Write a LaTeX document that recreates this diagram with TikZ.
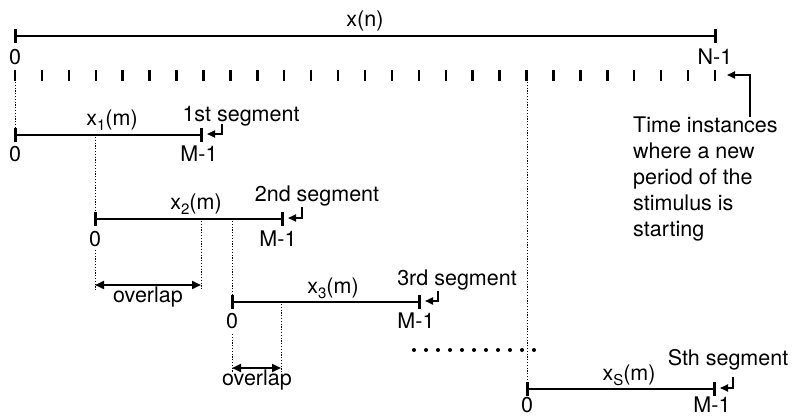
\documentclass[tikz,border=0pt]{standalone}
\usepackage{fontspec}
\setmainfont{TeX Gyre Heros}
\usetikzlibrary{arrows.meta}
\newcommand{\seglabel}[1]{x\raisebox{-5pt}{\fontsize{15}{15}\selectfont #1}(m)}
\begin{document}
\begin{tikzpicture}[x=1pt,y=-1pt,
  txt/.style={font=\fontsize{21.5}{26}\selectfont, inner sep=0pt, anchor=base},
  axis/.style={line width=2.2pt},
  endbar/.style={line width=3pt},
  tickmark/.style={line width=2.4pt},
  guide/.style={line width=0.9pt, dash pattern=on 1.2pt off 1.6pt},
  hook/.style={line width=1.8pt, -{Triangle[length=8pt,width=7pt]}},
  span/.style={line width=2.2pt, {Triangle[length=9pt,width=8pt]}-{Triangle[length=9pt,width=8pt]}},
]
\useasboundingbox (0,0) rectangle (793,417);

% full signal x(n)
\coordinate (n0) at (15,36);
\coordinate (n1) at (715,36);
\draw[axis] (n0) -- (n1);
\draw[endbar] (15,29) -- (15,43);
\draw[endbar] (715,29) -- (715,43);
\node[txt] (xn) at (365,27) {x(n)};
\node[txt] (n0lbl) at (15,65) {0};
\node[txt] (n1lbl) at (715,65) {N-1};

% period start instants
\foreach \k in {0,...,26}
  \draw[tickmark] ({15+\k*26.923},70) -- ++(0,11);

% note on the period starts
\node[font=\fontsize{21.5}{26}\selectfont, inner sep=0pt, anchor=north west, align=left]
  (note) at (633,117) {Time instances\\where a new\\period of the\\stimulus is\\starting};
\coordinate (notearr) at (750,117);
\coordinate (lasttick) at (727,75);
\draw[hook] (notearr) |- (lasttick);

% segment 1
\coordinate (s1a) at (15,135);
\coordinate (s1b) at (201,135);
\draw[axis] (s1a) -- (s1b);
\draw[endbar] (15,128) -- (15,142);
\draw[endbar] (201,128) -- (201,142);
\node[txt] (s1name) at (112,126) {\seglabel{1}};
\node[txt] (s1txt) at (241,122) {1st segment};
\node[txt] (s1zero) at (15,162) {0};
\node[txt] (s1end) at (199,162) {M-1};
\coordinate (s1h) at (222,124);
\coordinate (s1t) at (207,134);
\draw[hook] (s1h) |- (s1t);

% segment 2
\coordinate (s2a) at (95,219);
\coordinate (s2b) at (282,219);
\draw[axis] (s2a) -- (s2b);
\draw[endbar] (95,212) -- (95,226);
\draw[endbar] (282,212) -- (282,226);
\node[txt] (s2name) at (196,210) {\seglabel{2}};
\node[txt] (s2txt) at (317,202) {2nd segment};
\node[txt] (s2zero) at (95,246) {0};
\node[txt] (s2end) at (278,246) {M-1};
\coordinate (s2h) at (302,207);
\coordinate (s2t) at (288,218);
\draw[hook] (s2h) |- (s2t);

% segment 3
\coordinate (s3a) at (232,302);
\coordinate (s3b) at (419,302);
\draw[axis] (s3a) -- (s3b);
\draw[endbar] (232,295) -- (232,309);
\draw[endbar] (419,295) -- (419,309);
\node[txt] (s3name) at (333,293) {\seglabel{3}};
\node[txt] (s3txt) at (457,285) {3rd segment};
\node[txt] (s3zero) at (232,328) {0};
\node[txt] (s3end) at (416,328) {M-1};
\coordinate (s3h) at (438,291);
\coordinate (s3t) at (425,301);
\draw[hook] (s3h) |- (s3t);

% last segment
\coordinate (sSa) at (527,389);
\coordinate (sSb) at (714,389);
\draw[axis] (sSa) -- (sSb);
\draw[endbar] (527,382) -- (527,396);
\draw[endbar] (714,382) -- (714,396);
\node[txt] (sSname) at (629,380) {\seglabel{S}};
\node[txt] (sStxt) at (728,365) {Sth segment};
\node[txt] (sSzero) at (527,412.5) {0};
\node[txt] (sSend) at (712,412.5) {M-1};
\coordinate (sSh) at (733,377);
\coordinate (sSt) at (720,388);
\draw[hook] (sSh) |- (sSt);

% omitted segments
\foreach \k in {0,...,10}
  \fill ({414+\k*12},350) circle (2pt);

% alignment guides
\draw[guide] (15,82) -- (15,128);
\draw[guide] (95,137) -- (95,212);
\draw[guide] (95,250) -- (95,290);
\draw[guide] (201,221) -- (201,290);
\draw[guide] (232,221) -- (232,295);
\draw[guide] (232,334) -- (232,373);
\draw[guide] (281,304) -- (281,373);
\draw[guide] (527,82) -- (527,382);

% overlaps
\coordinate (o1a) at (95,285);
\coordinate (o1b) at (201,285);
\draw[span] (o1a) -- (o1b);
\node[txt] (o1txt) at (148,302) {overlap};
\coordinate (o2a) at (232,368);
\coordinate (o2b) at (281,368);
\draw[span] (o2a) -- (o2b);
\node[txt] (o2txt) at (257,385) {overlap};
\end{tikzpicture}
\end{document}
